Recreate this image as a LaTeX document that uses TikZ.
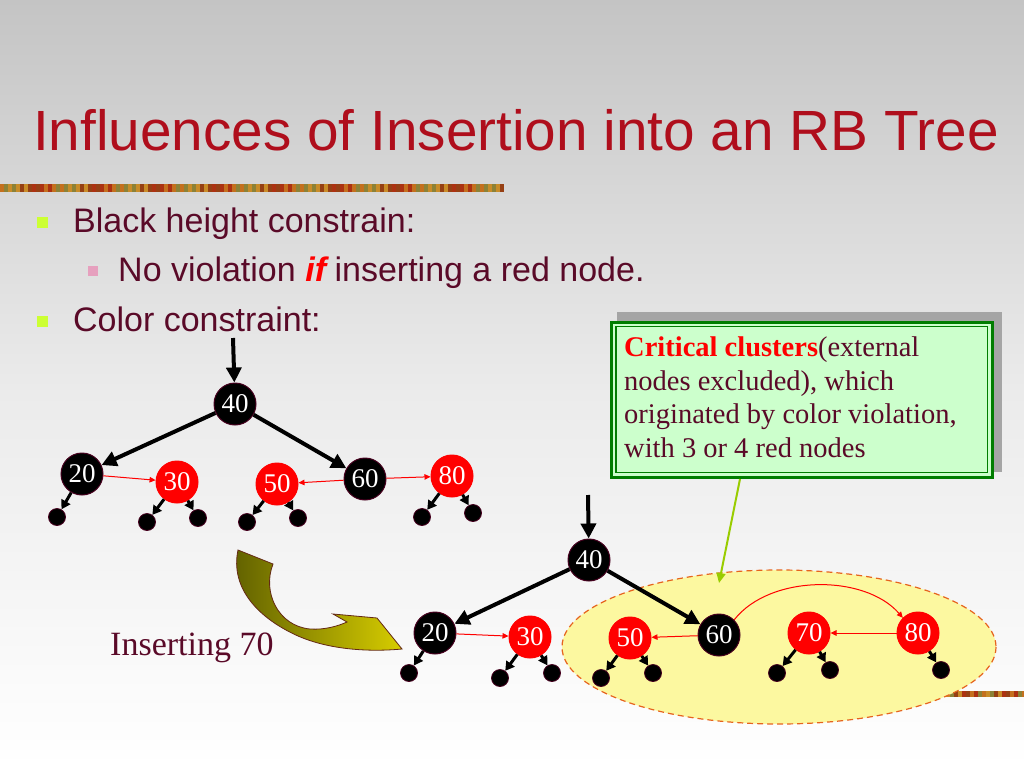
\documentclass[tikz,border=0pt]{standalone}
\usepackage{fontspec}
\setmainfont{Liberation Serif}
\newfontfamily\arialf{Liberation Sans}
\usetikzlibrary{arrows.meta}
\definecolor{txt}{RGB}{90,10,40}
\definecolor{titlered}{RGB}{175,14,28}
\definecolor{bullime}{RGB}{204,255,51}
\definecolor{bulpink}{RGB}{230,160,190}
\definecolor{nodeedge}{RGB}{70,0,30}
\definecolor{cfill}{RGB}{204,255,204}
\definecolor{cgreen}{RGB}{0,125,0}
\definecolor{cshadow}{RGB}{165,165,165}
\definecolor{limearrow}{RGB}{153,204,0}
\definecolor{elfill}{RGB}{252,248,160}
\definecolor{eledge}{RGB}{230,100,30}
\definecolor{olvA}{RGB}{95,95,0}
\definecolor{olvB}{RGB}{215,205,0}
\definecolor{olvedge}{RGB}{100,40,20}
\definecolor{bgtop}{RGB}{196,196,196}
\definecolor{bar0}{RGB}{196,112,30}
\definecolor{bar1}{RGB}{150,64,20}
\definecolor{bar2}{RGB}{140,130,55}
\definecolor{bar3}{RGB}{172,50,18}
\definecolor{bar4}{RGB}{200,140,40}
\begin{document}
\begin{tikzpicture}[x=1pt,y=-1pt,
  bnode/.style={circle, fill=black, draw=nodeedge, line width=1pt, minimum size=42pt, inner sep=0pt, text=white, font=\fontsize{27}{27}\selectfont},
  rnode/.style={circle, fill=red, draw=red, line width=1pt, minimum size=42pt, inner sep=0pt, text=white, font=\fontsize{27}{27}\selectfont},
  leaf/.style={circle, fill=black, draw=nodeedge, line width=0.8pt, minimum size=17pt, inner sep=0pt},
  treeedge/.style={line width=4pt, -{Triangle[length=15pt,width=15pt]}},
  stub/.style={line width=3pt, -{Triangle[length=9pt,width=10pt]}},
  redarrow/.style={draw=red, line width=1pt, -{Triangle[length=6pt,width=5.5pt]}},
  bodytext/.style={anchor=base west, inner sep=0pt, text=txt, font=\arialf\fontsize{34}{38}\selectfont},
  calltext/.style={anchor=base west, inner sep=0pt, text=txt, font=\fontsize{28.5}{33}\selectfont}
]
\useasboundingbox (0,0) rectangle (1024,768);
% background
\shade[top color=bgtop, bottom color=white, middle color=black!8] (0,0) rectangle (1024,768);
% decorative bars
\foreach \i in {0,...,125}{
  \pgfmathtruncatemacro\k{mod(\i*7+int(\i/3),5)}
  \fill[bar\k] (\i*4,184) rectangle ++(4.2,8);
}
\foreach \i in {0,...,43}{
  \pgfmathtruncatemacro\k{mod(\i*3+int(\i/2),5)}
  \fill[bar\k] (850+\i*4,691) rectangle ++(4.2,6);
}
% title
\node[anchor=base west, inner sep=0pt, text=titlered, font=\arialf\fontsize{56.7}{60}\selectfont] (title) at (33,150) {Influences of Insertion into an RB Tree};
% bullets
\fill[bullime] (37,217) rectangle (48,228);
\node[bodytext] (l1) at (73,232) {Black height constrain:};
\fill[bulpink] (88,266) rectangle (98,276);
\node[bodytext] (l2) at (118,281) {No violation \textcolor{red}{\textbf{\textit{if}}}\,inserting a red node.};
\fill[bullime] (37,316) rectangle (48,327);
\node[bodytext] (l3) at (73,331) {Color constraint:};
% callout
\fill[cshadow] (617,312) rectangle (1002,472);
\draw[fill=cfill, draw=cgreen, line width=3pt] (611.5,322) rectangle (992,477);
\draw[cgreen, line width=1.2pt] (616,326.5) rectangle (987.5,472.5);
\node[calltext] (c1) at (624,356) {\textcolor{red}{\textbf{Critical clusters}}(external};
\node[calltext] (c2) at (624,390) {nodes excluded), which};
\node[calltext] (c3) at (624,423) {originated by color violation,};
\node[calltext] (c4) at (624,457) {with 3 or 4 red nodes};
% cluster ellipse
\draw[fill=elfill, draw=eledge, line width=1.2pt, dash pattern=on 6pt off 4pt] (779,647) ellipse [x radius=217, y radius=77];
% callout pointer
\coordinate (cbot) at (740,479);
\coordinate (ctip) at (719,583);
\draw[limearrow, line width=2pt, -{Triangle[length=10pt,width=9pt]}] (cbot) -- (ctip);
% curved block arrow
\shade[left color=olvA, right color=olvB, draw=olvedge, line width=0.8pt]
  (238,550) -- (273,564) .. controls (262,592) and (278,626) .. (310,629)
  .. controls (325,630) and (338,626) .. (347,622) -- (333,614) -- (377,618) -- (402,649)
  .. controls (370,652) and (330,650) .. (298,636)
  .. controls (258,618) and (230,588) .. (238,550) -- cycle;
\node[anchor=base west, inner sep=0pt, text=txt, font=\fontsize{34}{38}\selectfont] (ins) at (110,655) {Inserting 70};
% top tree
\coordinate (tin) at (233,338);
\node[bnode] (t40) at (235,404) {40};
\node[bnode] (t20) at (82,474) {20};
\node[rnode] (t30) at (177,482) {30};
\node[rnode] (t50) at (277,484) {50};
\node[bnode] (t60) at (365,479) {60};
\node[rnode] (t80) at (452,476) {80};
\node[leaf] (t20l) at (57,517) {};
\node[leaf] (t30l) at (147,522) {};
\node[leaf] (t30r) at (198,518) {};
\node[leaf] (t50l) at (247,522) {};
\node[leaf] (t50r) at (298,518) {};
\node[leaf] (t80l) at (422,517) {};
\node[leaf] (t80r) at (473,513) {};
\draw[treeedge] (tin) -- (t40);
\draw[treeedge] (t40) -- (t20);
\draw[treeedge] (t40) -- (t60);
\draw[redarrow] (t20) -- (t30);
\draw[redarrow] (t60) -- (t50);
\draw[redarrow] (t60) -- (t80);
\draw[stub] (t20) -- (t20l);
\draw[stub] (t30) -- (t30l);
\draw[stub] (t30) -- (t30r);
\draw[stub] (t50) -- (t50l);
\draw[stub] (t50) -- (t50r);
\draw[stub] (t80) -- (t80l);
\draw[stub] (t80) -- (t80r);
% bottom tree
\coordinate (bin) at (588,495);
\node[bnode] (b40) at (589,560) {40};
\node[bnode] (b20) at (435,633) {20};
\node[rnode] (b30) at (530,637) {30};
\node[rnode] (b50) at (630,638) {50};
\node[bnode] (b60) at (719,635) {60};
\node[rnode] (b70) at (809,633) {70};
\node[rnode] (b80) at (918,633) {80};
\node[leaf] (b20l) at (409,673) {};
\node[leaf] (b30l) at (500,678) {};
\node[leaf] (b30r) at (552,673) {};
\node[leaf] (b50l) at (601,678) {};
\node[leaf] (b50r) at (653,673) {};
\node[leaf] (b70l) at (777,673) {};
\node[leaf] (b70r) at (830,670) {};
\node[leaf] (b80r) at (941,670) {};
\draw[treeedge] (bin) -- (b40);
\draw[treeedge] (b40) -- (b20);
\draw[treeedge] (b40) -- (b60);
\draw[redarrow] (b20) -- (b30);
\draw[redarrow] (b60) -- (b50);
\draw[redarrow] (b80) -- (b70);
\draw[redarrow] (b60.45) .. controls (770,574) and (865,574) .. (b80.135);
\draw[stub] (b20) -- (b20l);
\draw[stub] (b30) -- (b30l);
\draw[stub] (b30) -- (b30r);
\draw[stub] (b50) -- (b50l);
\draw[stub] (b50) -- (b50r);
\draw[stub] (b70) -- (b70l);
\draw[stub] (b70) -- (b70r);
\draw[stub] (b80) -- (b80r);
\end{tikzpicture}
\end{document}
